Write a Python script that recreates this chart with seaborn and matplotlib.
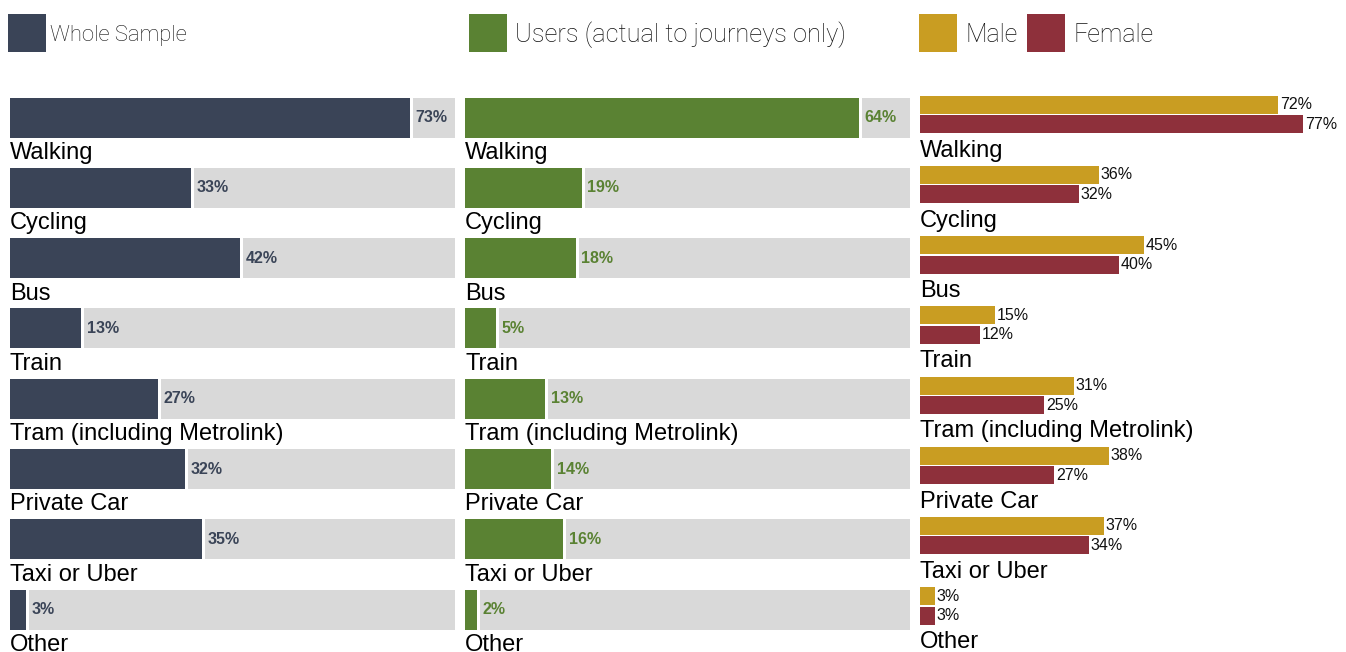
import numpy as np
import pandas as pd
import matplotlib
matplotlib.use('Agg')
import matplotlib.pyplot as plt
import seaborn as sns
from matplotlib.patches import Rectangle

modes = ["Walking", "Cycling", "Bus", "Train", "Tram (including Metrolink)",
         "Private Car", "Taxi or Uber", "Other"]
whole_sample = [73, 33, 42, 13, 27, 32, 35, 3]
users_actual = [64, 19, 18, 5, 13, 14, 16, 2]
male = [72, 36, 45, 15, 31, 38, 37, 3]
female = [77, 32, 40, 12, 25, 27, 34, 3]
legend_labels = ["Whole Sample", "Users (actual to journeys only)", "Male", "Female"]

sns.set_theme(style='white')
plt.rcParams['font.family'] = ['Liberation Sans', 'DejaVu Sans']

W, H = 1346, 652
fig = plt.figure(figsize=(W / 100, H / 100), dpi=100)

NAVY = '#3a4457'
GREEN = '#5a8233'
GOLD = '#c99d22'
RED = '#8e303b'
GRAY = '#d9d9d9'

TOP, BOT = 90, 652
CAT_FS = 17
VAL_FS = 11.5


def px_axes(x0, x1, y0=TOP, y1=BOT):
    return fig.add_axes([x0 / W, 1 - y1 / H, (x1 - x0) / W, (y1 - y0) / H])


def set_rows(ax, c0, pitch):
    ax.set_ylim((BOT - c0) / pitch, -(c0 - TOP) / pitch)


def single_panel(x0, x1, values, color, xmax, c0=117.5, pitch=70.3):
    ax = px_axes(x0, x1)
    vals = np.array(values, dtype=float)
    pos = np.arange(len(vals))
    pxu = (x1 - x0) / xmax
    gap = 3 / pxu
    h = 40 / pitch
    ax.barh(pos, xmax - (vals + gap), left=vals + gap, height=h,
            color=GRAY, zorder=0.5, linewidth=0)
    sns.barplot(x=values, y=modes, orient='h', color=color, width=h,
                saturation=1, ax=ax, linewidth=0)
    ax.bar_label(ax.containers[-1], labels=[f"{v}%" for v in values],
                 padding=4, color=color, fontweight='bold', fontsize=VAL_FS)
    ax.set_xlim(0, xmax)
    set_rows(ax, c0, pitch)
    for i, m in enumerate(modes):
        ax.text(0, i + 41.5 / pitch, m, fontsize=CAT_FS, va='baseline',
                ha='left', color='black', clip_on=False)
    ax.axis('off')
    return ax


single_panel(10, 455, whole_sample, NAVY, 81.3)
single_panel(465, 910, users_actual, GREEN, 72.3)

# gender panel
ax = px_axes(920, 1346)
pitch = 70.2
c0 = 114.5
df = pd.DataFrame({
    'mode': modes * 2,
    'gender': ['Male'] * len(modes) + ['Female'] * len(modes),
    'value': male + female,
})
sns.barplot(data=df, x='value', y='mode', hue='gender', orient='h',
            palette=[GOLD, RED], width=39 / pitch, gap=0.077, saturation=1,
            legend=False, ax=ax, linewidth=0)
for cont, vals in zip(ax.containers, [male, female]):
    ax.bar_label(cont, labels=[f"{v}%" for v in vals], padding=1.2,
                 fontsize=VAL_FS, color='#111111')
ax.set_xlim(0, 426 / 4.974)
set_rows(ax, c0, pitch)
for i, m in enumerate(modes):
    ax.text(0, i + 42 / pitch, m, fontsize=CAT_FS, va='baseline', ha='left',
            color='black', clip_on=False)
ax.axis('off')

# legend
leg = [(8, NAVY, legend_labels[0], 50, 15.8),
       (469, GREEN, legend_labels[1], 515, 18.3),
       (919, GOLD, legend_labels[2], 965, 18),
       (1027, RED, legend_labels[3], 1073, 18)]
for bx, col, lab, tx, fs in leg:
    fig.patches.append(Rectangle((bx / W, 1 - 52 / H), 38 / W, 38 / H,
                                 transform=fig.transFigure, color=col,
                                 linewidth=0))
    fig.text(tx / W, 1 - 35 / H, lab, fontsize=fs, va='center', ha='left',
             color='#111111', family=['Roboto', 'DejaVu Sans'],
             fontweight='light')

fig.savefig('out.png', dpi=100)
